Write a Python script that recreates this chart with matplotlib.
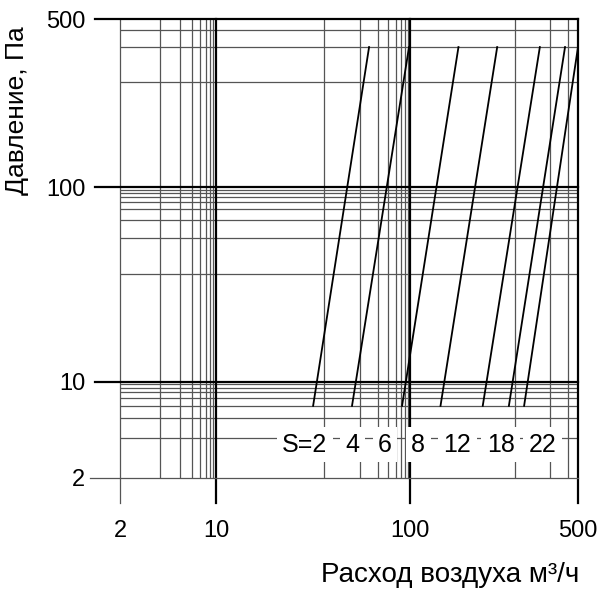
import numpy as np
import matplotlib
matplotlib.use('Agg')
import matplotlib.pyplot as plt
from matplotlib.ticker import NullLocator

plt.rcParams['font.family'] = ['Liberation Sans', 'DejaVu Sans']

# Axis ticks and grid values
x_ticks = [2, 10, 100, 500]
y_ticks = [2, 10, 100, 500]
x_grid = [3, 4, 5, 6, 7, 8, 9, 20, 30, 40, 50, 60, 70, 80, 90, 200, 300, 400]
y_grid = [3, 4, 5, 6, 7, 8, 9, 20, 30, 40, 50, 60, 70, 80, 90, 200, 300, 400]

# Characteristic lines: flow (m3/h) at the low and high pressure ends
s_names = ['S=2', '4', '6', '8', '12', '18', '22']
p_low = 5
p_high = 300
flow_low = [18.2, 27.1, 73.1, 117, 153, 189, 219]
flow_high = [34.5, 95.6, 130, 171, 262, 382, 500]
label_flow = [17.0, 27.1, 46.3, 104, 129, 176, 271]
label_p = 2.76

# The printed grid is not a true log scale: each segment between the
# labelled values is spaced like 1/x, segments have their own widths
anchors = np.array([2.0, 10.0, 100.0, 500.0])
seg_w = np.array([96.0, 194.0, 168.0])
seg_start = np.concatenate([[0.0], np.cumsum(seg_w)])


def fwd(v):
    v = np.clip(np.asarray(v, dtype=float), 1e-3, None)
    i = np.clip(np.searchsorted(anchors, v, side='right') - 1, 0, 2)
    a, b = anchors[i], anchors[i + 1]
    f = (1 / a - 1 / v) / (1 / a - 1 / b)
    return seg_start[i] + seg_w[i] * f


def inv(u):
    u = np.asarray(u, dtype=float)
    i = np.clip(np.searchsorted(seg_start, u, side='right') - 1, 0, 2)
    a, b = anchors[i], anchors[i + 1]
    f = (u - seg_start[i]) / seg_w[i]
    r = 1 / a - f * (1 / a - 1 / b)
    return 1 / np.clip(r, 1e-6, None)


fig = plt.figure(figsize=(6, 6.08), dpi=100)
ax = fig.add_axes([120 / 600, 1 - 478 / 608, 458 / 600, 459 / 608])
ax.set_xscale('function', functions=(fwd, inv))
ax.set_yscale('function', functions=(fwd, inv))
ax.set_xlim(2, 500)
ax.set_ylim(2, 500)
for s in ax.spines.values():
    s.set_visible(False)

# thin grid
for v in x_grid:
    ax.axvline(v, color='#555555', lw=0.9, zorder=1)
for v in y_grid:
    ax.axhline(v, color='#555555', lw=0.9, zorder=1)

# labelled lines, running out past the frame like ticks
for v in x_ticks:
    if v == 2:
        ax.axvline(v, ymin=-25 / 459, ymax=1, color='#555555', lw=0.9,
                   clip_on=False, zorder=2)
    else:
        ax.axvline(v, ymin=-25 / 459, ymax=1, color='black', lw=1.6,
                   clip_on=False, zorder=2)
for v in y_ticks:
    if v == 2:
        ax.axhline(v, xmin=-30 / 458, xmax=1, color='#555555', lw=0.9,
                   clip_on=False, zorder=2)
    else:
        ax.axhline(v, xmin=-25 / 458, xmax=1, color='black', lw=1.6,
                   clip_on=False, zorder=2)

for lo, hi in zip(flow_low, flow_high):
    ax.plot([lo, hi], [p_low, p_high], color='black', lw=1.3, zorder=3)

for name, x in zip(s_names, label_flow):
    ax.text(x, label_p, name, ha='center', va='center', fontsize=18, zorder=5,
            bbox=dict(facecolor='white', edgecolor='none', pad=4))

ax.set_xticks(x_ticks, labels=[str(v) for v in x_ticks])
ax.set_yticks(y_ticks, labels=[str(v) for v in y_ticks])
ax.xaxis.set_minor_locator(NullLocator())
ax.yaxis.set_minor_locator(NullLocator())
ax.tick_params(axis='both', length=0, labelsize=17)
ax.tick_params(axis='x', pad=30)
ax.tick_params(axis='y', pad=25)

ax.set_ylabel('Давление, Па', fontsize=19)
ax.yaxis.label.set(ha='center', va='center')
ax.yaxis.set_label_coords(-0.225, 0.80)
ax.set_xlabel('Расход воздуха м³/ч', fontsize=20)
ax.xaxis.label.set(ha='right', va='center')
ax.xaxis.set_label_coords(1.004, -0.212)

fig.savefig('out.png', dpi=100)
